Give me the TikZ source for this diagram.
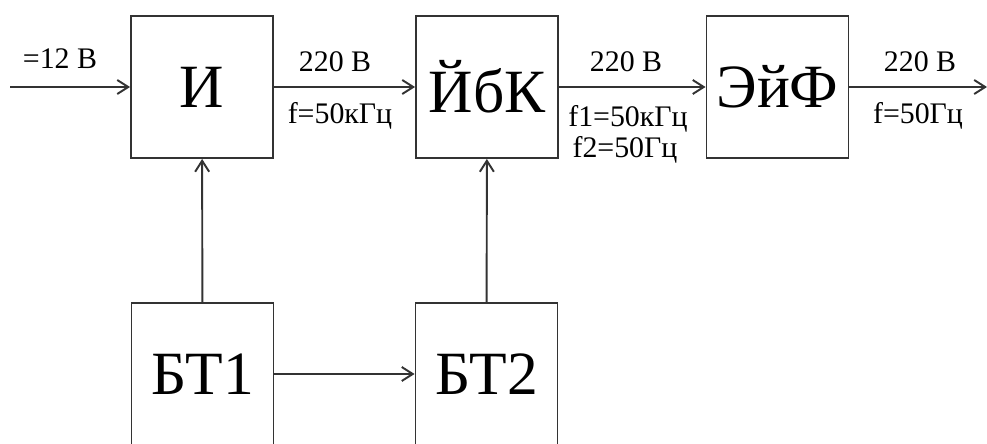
\documentclass[tikz,border=0pt]{standalone}
\usepackage{fontspec}
\setmainfont{Liberation Serif}
\usetikzlibrary{arrows.meta}

\begin{document}
\begin{tikzpicture}[x=.02cm,y=-.02cm,line width=1.1pt,draw=black!80,
  blok/.style={draw,minimum width=2.84cm,minimum height=2.84cm,inner sep=0pt,
    font=\fontsize{35}{40}\selectfont},
  lbl/.style={anchor=base,inner sep=0pt,font=\fontsize{17}{20}\selectfont},
  strl/.style={-{Straight Barb[length=2.2mm,width=2.8mm]}}]
\clip (0,0) rectangle (987,443);
\node[blok] (I) at (202,87) {И};
\node[blok] (YBK) at (487,87) {ЙбК};
\node[blok] (EYF) at (777.5,87) {ЭйФ};
\node[blok] (BT1) at (202.5,374) {БТ1};
\node[blok] (BT2) at (486.5,374) {БТ2};
\coordinate (in) at (10,87);
\coordinate (out) at (987,87);
\draw[strl] (in)--(I);
\draw[strl] (I)--(YBK);
\draw[strl] (YBK)--(EYF);
\draw[strl] (EYF)--(out);
\draw[strl] (BT1)--(I);
\draw[strl] (BT2)--(YBK);
\draw[strl] (BT1)--(BT2);
\node[lbl] (u0) at (60,68) {=12 В};
\node[lbl] (u1) at (335,71) {220 В};
\node[lbl] (f1) at (340,123) {f=50кГц};
\node[lbl] (u2) at (626,71) {220 В};
\node[lbl] (f2a) at (628,126) {f1=50кГц};
\node[lbl] (f2b) at (625,157) {f2=50Гц};
\node[lbl] (u3) at (920,71) {220 В};
\node[lbl] (f3) at (918,123) {f=50Гц};
\end{tikzpicture}
\end{document}
